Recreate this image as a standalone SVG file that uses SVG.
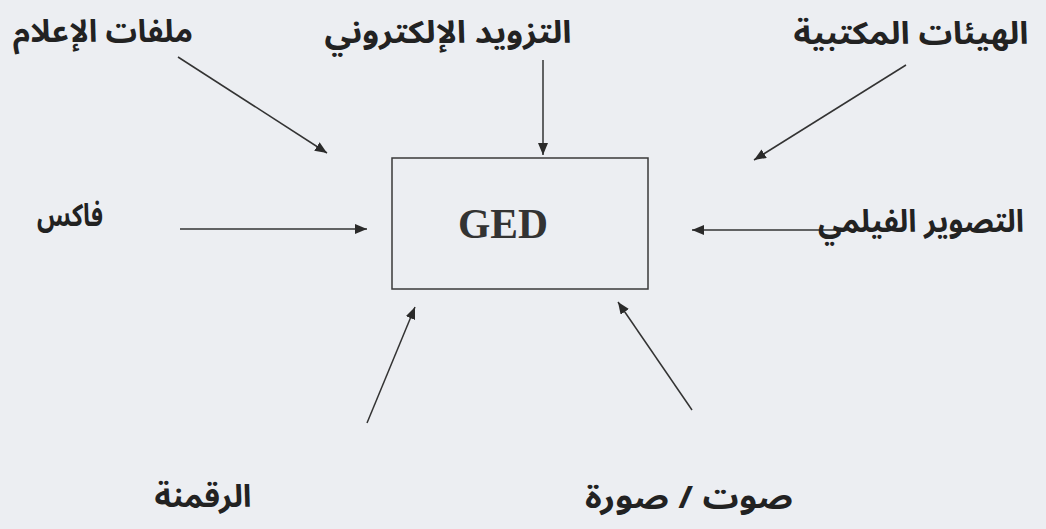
<svg xmlns="http://www.w3.org/2000/svg" width="1046" height="529" viewBox="0 0 1046 529">
<defs>
<marker id="ah" viewBox="0 0 12 10" refX="12" refY="5" markerWidth="12" markerHeight="10" markerUnits="userSpaceOnUse" orient="auto">
<path d="M0,0 L12,5 L0,10 Z" fill="#2a2a2a"/>
</marker>
<style>
.lbl{font-family:'Noto Sans Arabic','DejaVu Sans',sans-serif;font-weight:bold;font-size:31px;fill:#222;}
.ged{font-family:'Liberation Serif',serif;font-weight:bold;font-size:42px;fill:#333;}
.box{fill:none;stroke:#3a3a3a;stroke-width:1.5;}
.ln{stroke:#333;stroke-width:1.5;fill:none;marker-end:url(#ah);}
</style>
</defs>
<rect x="0" y="0" width="1046" height="529" fill="#eceef2"/>
<g id="connectors">
<line class="ln" x1="178" y1="57" x2="327" y2="153"/>
<line class="ln" x1="543" y1="60" x2="543" y2="155"/>
<line class="ln" x1="906" y1="65" x2="754" y2="160"/>
<line class="ln" x1="180" y1="229" x2="367" y2="229"/>
<line class="ln" x1="850" y1="230" x2="692" y2="230"/>
<line class="ln" x1="367" y1="423" x2="415" y2="307"/>
<line class="ln" x1="692" y1="410" x2="618" y2="302"/>
</g>
<g id="node-ged">
<rect class="box" x="392" y="158" width="256" height="131"/>
<text class="ged" x="458" y="238" textLength="90" lengthAdjust="spacingAndGlyphs">GED</text>
</g>
<g id="node-files">
<text class="lbl" x="103" y="42" text-anchor="middle" direction="rtl" textLength="180" lengthAdjust="spacingAndGlyphs">ملفات الإعلام</text>
</g>
<g id="node-eprov">
<text class="lbl" x="448" y="43" text-anchor="middle" direction="rtl" textLength="247" lengthAdjust="spacingAndGlyphs">التزويد الإلكتروني</text>
</g>
<g id="node-lib">
<text class="lbl" x="911" y="44" text-anchor="middle" direction="rtl" textLength="235" lengthAdjust="spacingAndGlyphs">الهيئات المكتبية</text>
</g>
<g id="node-fax">
<text class="lbl" x="70" y="226" text-anchor="middle" direction="rtl" textLength="66" lengthAdjust="spacingAndGlyphs">فاكس</text>
</g>
<g id="node-film">
<text class="lbl" x="921" y="232" text-anchor="middle" direction="rtl" textLength="206" lengthAdjust="spacingAndGlyphs">التصوير الفيلمي</text>
</g>
<g id="node-digit">
<text class="lbl" x="203" y="507" text-anchor="middle" direction="rtl" textLength="97" lengthAdjust="spacingAndGlyphs">الرقمنة</text>
</g>
<g id="node-av">
<text class="lbl" x="689" y="508" text-anchor="middle" direction="rtl" textLength="208" lengthAdjust="spacingAndGlyphs">صوت / صورة</text>
</g>
</svg>
